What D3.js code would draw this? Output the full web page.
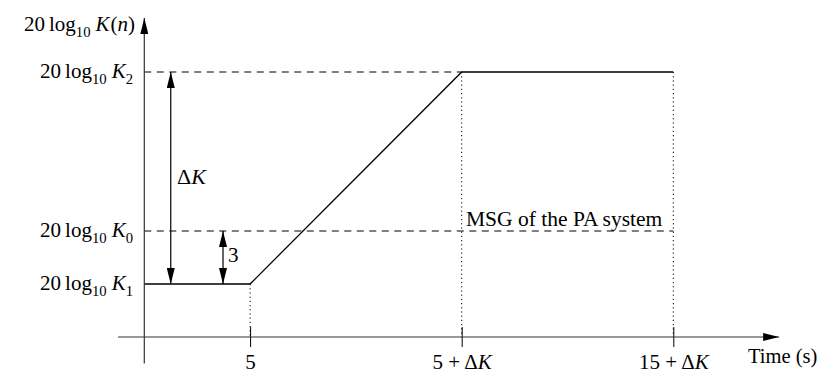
<!DOCTYPE html>
<html>
<head>
<meta charset="utf-8">
<script src="https://cdn.jsdelivr.net/npm/d3@7"></script>
<style>
  html, body { margin: 0; padding: 0; background: #fff; }
  svg { display: block; }
  text { font-family: "Liberation Serif", "Times New Roman", serif; fill: #000; }
</style>
</head>
<body>
<svg id="chart" width="821" height="374"></svg>
<script>
// Gain profile over time (seconds, dB relative to K1)
const profileTime = [0, 5, 15, 25];
const profileLevel = [0, 0, 12, 12];

// Time ticks and their labels
const timeTicks = [5, 15, 25];
const timeTickLabels = [
  [{t: "5"}],
  [{t: "5 + Δ"}, {t: "K", i: true}],
  [{t: "15 + Δ"}, {t: "K", i: true}]
];

// Gain reference levels (dB relative to K1) and their subscripts
const levelValues = [12, 3, 0];
const levelSubs = ["2", "0", "1"];

// Annotated step between K1 and K0
const msgMargin = 3;
const msgLabel = "MSG of the PA system";
const xAxisTitle = "Time (s)";

const svg = d3.select("#chart");
const x = d3.scaleLinear().domain([0, 25]).range([144.3, 673.3]);
const y = d3.scaleLinear().domain([0, 12]).range([284, 72]);

const axisColor = "#333";
const xAxisY = y(-3);
const yAxisX = x(0);
const mathSize = 21;

// Arrowhead marker
const defs = svg.append("defs");
defs.append("marker")
  .attr("id", "arrow")
  .attr("viewBox", "0 0 16 8")
  .attr("refX", 16).attr("refY", 4)
  .attr("markerWidth", 16).attr("markerHeight", 8)
  .attr("markerUnits", "userSpaceOnUse")
  .attr("orient", "auto-start-reverse")
  .append("path")
  .attr("d", "M0,0 L16,4 L0,8 Z")
  .attr("fill", "#000");

// Math-style label writer: segments with italic / subscript / spacing flags
function mathText(sel, parts, size) {
  parts.forEach(p => {
    const ts = sel.append("tspan").text(p.t);
    if (p.i) ts.attr("font-style", "italic");
    let dy = 0;
    if (p.sub) { ts.attr("font-size", size * 0.7); dy += size * 0.28; }
    if (p.up) dy -= size * 0.28;
    if (dy) ts.attr("dy", dy);
    if (p.dx) ts.attr("dx", p.dx);
  });
}
function levelParts(sub) {
  return [{t: "20"}, {t: "log", dx: 4}, {t: "10", sub: true}, {t: "K", up: true, i: true, dx: 5}, {t: sub, sub: true}];
}

// Dashed reference levels K2 and K0
svg.append("line")
  .attr("x1", yAxisX).attr("x2", x(15))
  .attr("y1", y(levelValues[0])).attr("y2", y(levelValues[0]))
  .attr("stroke", "#000").attr("stroke-width", 1)
  .attr("stroke-dasharray", "7,5.5");
svg.append("line")
  .attr("x1", yAxisX).attr("x2", x(25))
  .attr("y1", y(levelValues[1])).attr("y2", y(levelValues[1]))
  .attr("stroke", "#000").attr("stroke-width", 1)
  .attr("stroke-dasharray", "7,5.5");

// Dotted drop lines from the profile corners to the time axis
const drops = [{t: 5, v: 0}, {t: 15, v: 12}, {t: 25, v: 12}];
svg.selectAll(".drop").data(drops).enter().append("line")
  .attr("class", "drop")
  .attr("x1", d => x(d.t)).attr("x2", d => x(d.t))
  .attr("y1", d => y(d.v)).attr("y2", xAxisY)
  .attr("stroke", "#000").attr("stroke-width", 1)
  .attr("stroke-dasharray", "1.2,3");

// Gain profile
const line = d3.line().x(d => x(d[0])).y(d => y(d[1]));
svg.append("path")
  .datum(profileTime.map((t, i) => [t, profileLevel[i]]))
  .attr("d", line)
  .attr("fill", "none").attr("stroke", "#000").attr("stroke-width", 1.3);

// Time axis with ticks
const xAxis = d3.axisBottom(x).tickValues(timeTicks).tickSize(20).tickFormat("");
const gx = svg.append("g").attr("transform", `translate(0,${xAxisY - 10})`).call(xAxis);
gx.select(".domain").remove();
gx.selectAll(".tick line").attr("stroke", "#000").attr("stroke-width", 1);
gx.selectAll(".tick").each(function(d, i) {
  const tx = d3.select(this).append("text")
    .attr("y", 42).attr("text-anchor", "middle")
    .attr("font-size", mathSize).style("fill", "#000");
  mathText(tx, timeTickLabels[i], mathSize);
});

svg.append("line")
  .attr("x1", x(-1.24)).attr("x2", x(30))
  .attr("y1", xAxisY).attr("y2", xAxisY)
  .attr("stroke", axisColor).attr("stroke-width", 1.2)
  .attr("marker-end", "url(#arrow)");

// Gain axis
svg.append("line")
  .attr("x1", yAxisX).attr("x2", yAxisX)
  .attr("y1", y(-4.5)).attr("y2", y(15.06))
  .attr("stroke", axisColor).attr("stroke-width", 1.2)
  .attr("marker-end", "url(#arrow)");

// Level labels
levelValues.forEach((v, i) => {
  const t = svg.append("text")
    .attr("x", 133).attr("y", y(v) + 6)
    .attr("text-anchor", "end").attr("font-size", mathSize);
  mathText(t, levelParts(levelSubs[i]), mathSize);
});

// Gain axis title
const yt = svg.append("text")
  .attr("x", 135).attr("y", 31)
  .attr("text-anchor", "end").attr("font-size", mathSize);
mathText(yt, [{t: "20"}, {t: "log", dx: 4}, {t: "10", sub: true}, {t: "K", up: true, i: true, dx: 5}, {t: "(", dx: 1}, {t: "n", i: true}, {t: ")"}], mathSize);

// Time axis title
svg.append("text")
  .attr("x", 748).attr("y", 363)
  .attr("font-size", 20.5)
  .text(xAxisTitle);

// ΔK dimension arrow
svg.append("line")
  .attr("x1", x(1.25)).attr("x2", x(1.25))
  .attr("y1", y(0)).attr("y2", y(12))
  .attr("stroke", "#000").attr("stroke-width", 1.2)
  .attr("marker-start", "url(#arrow)")
  .attr("marker-end", "url(#arrow)");
const dk = svg.append("text")
  .attr("x", 177).attr("y", 184).attr("font-size", 22);
mathText(dk, [{t: "Δ"}, {t: "K", i: true}], 22);

// 3 dB margin arrow
svg.append("line")
  .attr("x1", x(3.72)).attr("x2", x(3.72))
  .attr("y1", y(0)).attr("y2", y(msgMargin))
  .attr("stroke", "#000").attr("stroke-width", 1.2)
  .attr("marker-start", "url(#arrow)")
  .attr("marker-end", "url(#arrow)");
svg.append("text")
  .attr("x", 228).attr("y", 262)
  .attr("font-size", mathSize)
  .text(String(msgMargin));

// MSG annotation
svg.append("text")
  .attr("x", 466).attr("y", y(msgMargin) - 5)
  .attr("font-size", 21.5)
  .text(msgLabel);
</script>
</body>
</html>
